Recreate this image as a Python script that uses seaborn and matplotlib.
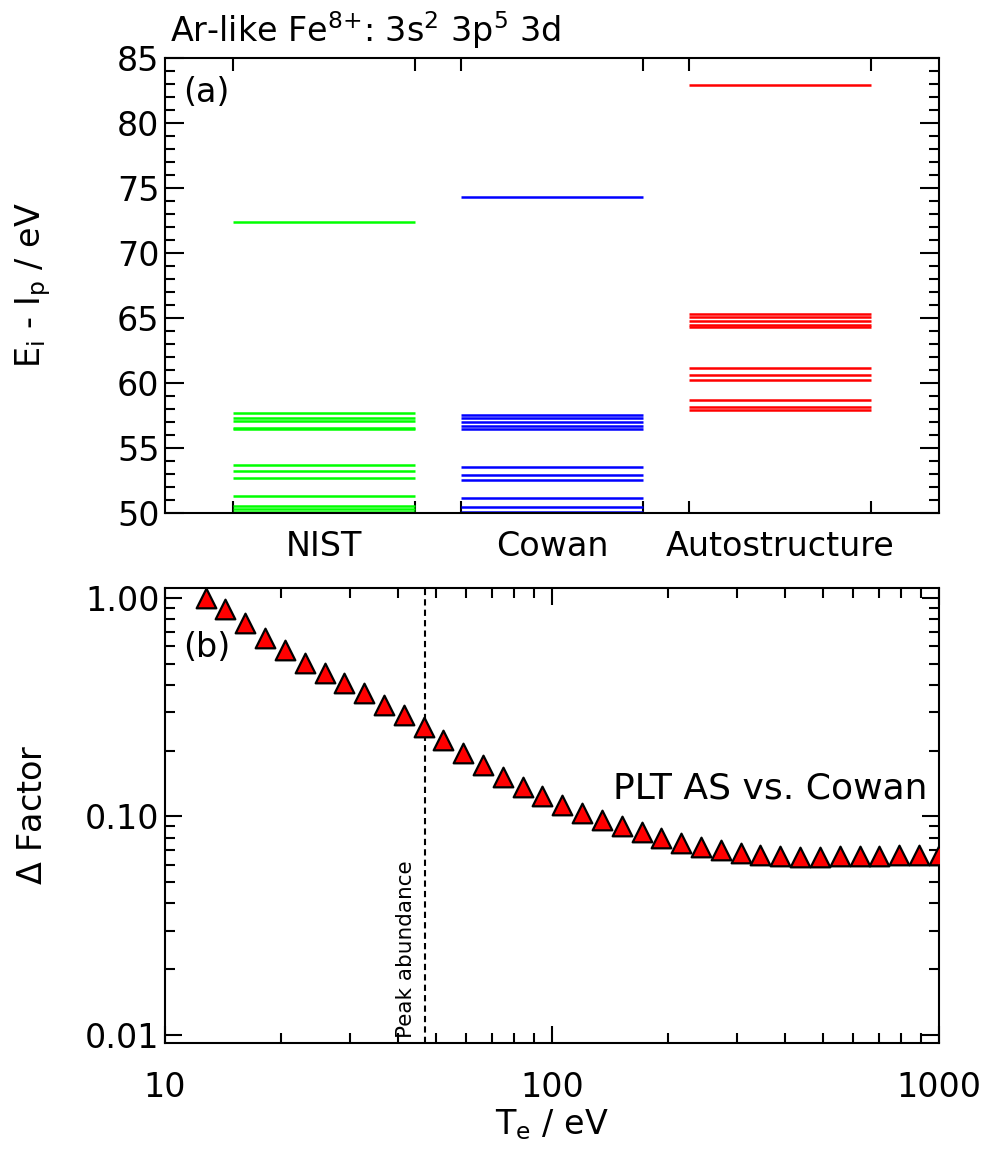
import numpy as np
import pandas as pd
import matplotlib
matplotlib.use("Agg")
import matplotlib.pyplot as plt
from matplotlib.ticker import FixedLocator, NullFormatter, LogLocator, FixedFormatter
import seaborn as sns

# ---------------- data ----------------
sources = ["NIST", "Cowan", "Autostructure"]
source_colors = ["#00ff00", "#0000ff", "#ff0000"]

nist_levels = [72.38, 57.68, 57.30, 57.05, 56.55, 56.45, 53.73, 53.21, 52.73,
               51.30, 50.53, 50.30, 50.10]
cowan_levels = [74.30, 57.56, 57.30, 56.99, 56.67, 56.45, 53.54, 52.91, 52.52,
                51.12, 50.48, 50.08]
as_levels = [82.90, 65.31, 65.05, 64.80, 64.49, 64.29, 61.14, 60.65, 60.24,
             58.66, 58.15, 57.89]

te_ev = [12.74, 14.33, 16.12, 18.14, 20.41, 22.96, 25.84, 29.07, 32.71, 36.80,
         41.40, 46.58, 52.41, 58.97, 66.34, 74.64, 83.98, 94.49, 106.3, 119.6,
         134.6, 151.4, 170.4, 191.7, 215.7, 242.7, 273.0, 307.2, 345.6, 388.9,
         437.5, 492.3, 553.9, 623.2, 701.2, 788.9, 887.6, 1000.0]
delta_factor = [1.00, 0.890, 0.768, 0.656, 0.580, 0.504, 0.454, 0.408, 0.367, 0.325,
                0.292, 0.258, 0.224, 0.196, 0.1725, 0.1515, 0.1363, 0.1235, 0.1131, 0.1036,
                0.0966, 0.0900, 0.0845, 0.0801, 0.0760, 0.0729, 0.0704, 0.0680, 0.0668, 0.0661,
                0.0656, 0.0656, 0.0661, 0.0661, 0.0663, 0.0668, 0.0668, 0.0668]
peak_abundance_te = 47.0

# ---------------- style ----------------
sns.set_theme(style="ticks")
plt.rcParams["font.family"] = ["DejaVu Sans"]
plt.rcParams["mathtext.default"] = "regular"
plt.rcParams["axes.linewidth"] = 1.5
for key in ["text.color", "axes.labelcolor", "xtick.color", "ytick.color",
            "axes.edgecolor"]:
    plt.rcParams[key] = "black"

W, H = 996, 1150
fig = plt.figure(figsize=(W / 100, H / 100), dpi=100)

def ax_rect(l, t, r, b):
    return [l / W, 1 - b / H, (r - l) / W, (b - t) / H]

FS = 24

# ---------------- panel (a) ----------------
ax1 = fig.add_axes(ax_rect(165, 58, 939, 513))
half = 0.4
level_df = pd.DataFrame({
    "source": ["NIST"] * len(nist_levels) + ["Cowan"] * len(cowan_levels)
              + ["Autostructure"] * len(as_levels),
    "energy": nist_levels + cowan_levels + as_levels,
})
level_df["pos"] = level_df["source"].map({s: i for i, s in enumerate(sources)})
for i, (src, col) in enumerate(zip(sources, source_colors)):
    sub = level_df[level_df["source"] == src]
    ax1.hlines(sub["energy"], sub["pos"] - half, sub["pos"] + half,
               colors=col, linewidth=1.8)

ax1.set_xlim(-0.7, 2.7)
ax1.set_ylim(50, 85)
edges = []
for i in range(len(sources)):
    edges += [i - half, i + half]
ax1.xaxis.set_major_locator(FixedLocator(edges))
ax1.xaxis.set_major_formatter(NullFormatter())
ax1.xaxis.set_minor_locator(FixedLocator(range(len(sources))))
ax1.xaxis.set_minor_formatter(FixedFormatter(sources))
ax1.tick_params(axis="x", which="major", direction="in", length=9, width=1.5,
                top=True, bottom=True)
ax1.tick_params(axis="x", which="minor", length=0, pad=12, labelsize=FS)
ax1.set_yticks([50, 55, 60, 65, 70, 75, 80, 85])
ax1.yaxis.set_minor_locator(FixedLocator(np.arange(50, 85.1, 1)))
ax1.tick_params(axis="y", which="major", direction="in", length=14, width=1.5,
                left=True, right=True, labelsize=FS, pad=4)
ax1.tick_params(axis="y", which="minor", direction="in", length=7, width=1.5,
                left=True, right=True)
ax1.text(0.023, 0.925, "(a)", transform=ax1.transAxes, fontsize=FS,
         ha="left", va="center")

fig.text(170 / W, 1 - 30 / H, r"Ar-like Fe$^{8{+}}$: 3s$^{2}$ 3p$^{5}$ 3d",
         fontsize=FS, ha="left", va="center")
fig.text(33 / W, 1 - 285 / H, r"E$_{i}$ - I$_{p}$ / eV", fontsize=FS,
         rotation=90, ha="center", va="center")

# ---------------- panel (b) ----------------
ax2 = fig.add_axes(ax_rect(165, 588, 939, 1043))
pts = pd.DataFrame({"Te": te_ev, "factor": delta_factor})
sns.scatterplot(data=pts, x="Te", y="factor", ax=ax2, marker="^", s=200,
                color="#ff0000", edgecolor="black", linewidth=1.6, zorder=3,
                legend=False)
ax2.set_xscale("log")
ax2.set_yscale("log")
ax2.set_xlim(10, 1000)
ax2.set_ylim(0.0092, 1.11)
ax2.axvline(peak_abundance_te, color="black", linestyle=(0, (3, 2)), linewidth=1.5)
ax2.text(peak_abundance_te * 0.95, 0.0097, "Peak abundance", rotation=90,
         fontsize=15.5, ha="right", va="bottom")
ax2.text(0.985, 0.56, "PLT AS vs. Cowan", transform=ax2.transAxes,
         fontsize=26, ha="right", va="center")
ax2.text(0.023, 0.87, "(b)", transform=ax2.transAxes, fontsize=FS,
         ha="left", va="center")

ax2.set_xticks([10, 100, 1000])
ax2.set_xticklabels(["10", "100", "1000"])
ax2.xaxis.set_minor_locator(LogLocator(base=10, subs=np.arange(2, 10)))
ax2.xaxis.set_minor_formatter(NullFormatter())
ax2.set_yticks([0.01, 0.1, 1.0])
ax2.set_yticklabels(["0.01", "0.10", "1.00"])
ax2.yaxis.set_minor_locator(LogLocator(base=10, subs=np.arange(2, 10)))
ax2.yaxis.set_minor_formatter(NullFormatter())
ax2.tick_params(axis="both", which="major", direction="in", length=12, width=1.5,
                top=True, right=True, labelsize=FS)
ax2.tick_params(axis="x", which="major", pad=20)
ax2.tick_params(axis="y", which="major", pad=4)
ax2.tick_params(axis="both", which="minor", direction="in", length=7, width=1.5,
                top=True, right=True)
ax2.set_xlabel("")
ax2.set_ylabel("")

fig.text(33 / W, 1 - 815 / H, r"$\Delta$ Factor", fontsize=FS,
         rotation=90, ha="center", va="center")
fig.text(552 / W, 1 - 1125 / H, r"T$_{e}$ / eV", fontsize=FS,
         ha="center", va="center")

fig.savefig("out.png", dpi=100)
